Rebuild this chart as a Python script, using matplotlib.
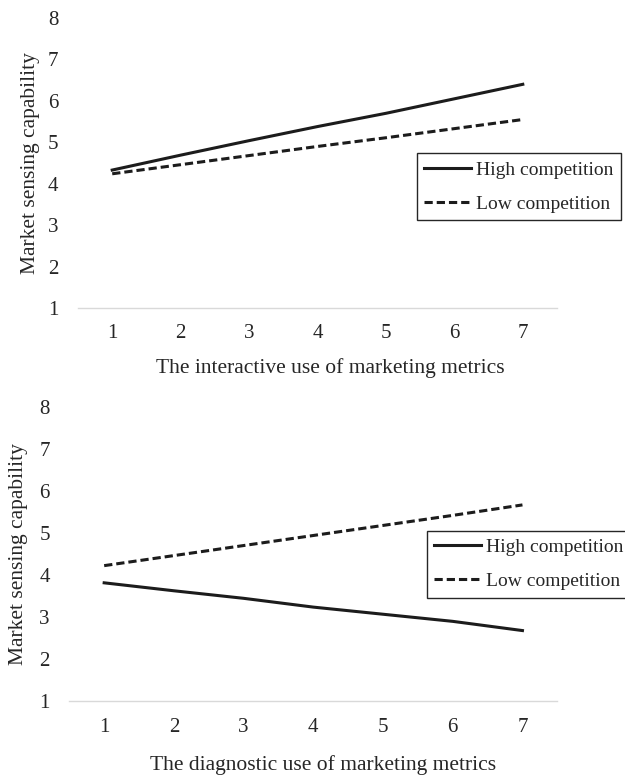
import matplotlib.pyplot as plt

plt.rcParams['font.family'] = ['Liberation Serif', 'DejaVu Serif']

# valores de la escala (1 a 7)
x = [1, 2, 3, 4, 5, 6, 7]

# uso interactivo
alta_inter = [4.33, 4.69, 5.04, 5.38, 5.70, 6.05, 6.40]
baja_inter = [4.24, 4.46, 4.68, 4.90, 5.11, 5.33, 5.55]

# uso diagnostico
alta_diag = [3.81, 3.62, 3.44, 3.23, 3.06, 2.89, 2.67]
baja_diag = [4.22, 4.46, 4.70, 4.94, 5.18, 5.42, 5.67]

etiquetas = ['High competition', 'Low competition']
yticks = [1, 2, 3, 4, 5, 6, 7, 8]

color = '#1c1c1c'
texto = '#262626'

fig = plt.figure(figsize=(6.25, 7.8), dpi=100)
ax1 = fig.add_axes([0.1248, 0.6051, 0.7664, 0.3718])
ax2 = fig.add_axes([0.1109, 0.1019, 0.7808, 0.3759])

# (eje, serie alta, serie baja, titulo x, posicion x del titulo, leyenda, pads)
paneles = [
    (ax1, alta_inter, baja_inter, 'The interactive use of marketing metrics', 0.526,
     (416.7 / 625, 1 - 153.3 / 780), 11.5, 11, 5.5),
    (ax2, alta_diag, baja_diag, 'The diagnostic use of marketing metrics', 0.521,
     (426.7 / 625, 1 - 530.7 / 780), 12.5, 13, 8.5),
]

for ax, alta, baja, xlab, xpos, pos, tpad, lpad, ypad in paneles:
    ax.plot(x, alta, color=color, lw=2.2, label=etiquetas[0])
    ax.plot(x, baja, color=color, lw=2.2, linestyle=(0, (2.7, 1.3)), label=etiquetas[1])
    ax.set_xlim(0.5, 7.5)
    ax.set_ylim(1, 8)
    ax.set_xticks(x)
    ax.set_yticks(yticks)
    for s in ['top', 'right', 'left']:
        ax.spines[s].set_visible(False)
    ax.spines['bottom'].set_color('#d9d9d9')
    ax.spines['bottom'].set_linewidth(1.0)
    ax.tick_params(length=0, labelsize=15, colors=texto)
    ax.tick_params(axis='x', pad=tpad)
    ax.tick_params(axis='y', pad=14)
    ax.set_xlabel(xlab, fontsize=15.5, color=texto, labelpad=lpad, x=xpos)
    ax.set_ylabel('Market sensing capability', fontsize=15.5, color=texto, labelpad=ypad)
    leg = ax.legend(loc='upper left', bbox_to_anchor=pos, bbox_transform=fig.transFigure,
                    fontsize=14, handlelength=2.4, handletextpad=0.26, labelspacing=0.84,
                    borderpad=0.4, borderaxespad=0, fancybox=False, framealpha=1)
    leg.get_frame().set_edgecolor(texto)
    leg.get_frame().set_linewidth(1.0)
    for t in leg.get_texts():
        t.set_color(texto)

fig.savefig('out.png', dpi=100)
